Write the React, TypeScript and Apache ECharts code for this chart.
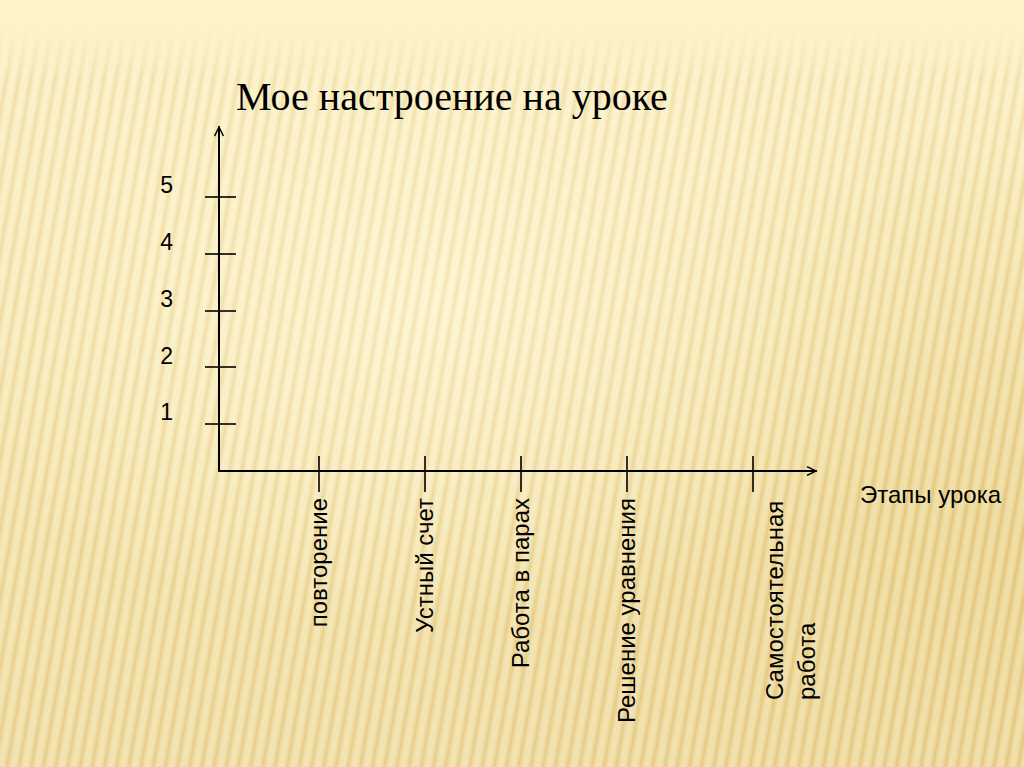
import React, { useEffect, useRef } from "react";
import * as echarts from "echarts";

const chartTitle = "Мое настроение на уроке";
const stageNames = ["повторение", "Устный счет", "Работа в парах", "Решение уравнения", "Самостоятельная\nработа"];
const stagePositions = [0.97, 2.0, 2.93, 3.96, 5.19];
const moodLevels = [1, 2, 3, 4, 5];
const xAxisName = "Этапы урока";

const ARROW = "path://M5,0 L10,10 L8.8,11 L5,3 L1.2,11 L0,10 Z";

function stageLabel(v: number): string {
  let best = 0;
  let d = Infinity;
  stagePositions.forEach((p, i) => {
    if (Math.abs(p - v) < d) {
      d = Math.abs(p - v);
      best = i;
    }
  });
  return stageNames[best];
}

export default function App() {
  const ref = useRef<HTMLDivElement>(null);
  useEffect(() => {
    if (!ref.current) return;
    const chart = echarts.init(ref.current, undefined, { renderer: "svg" });
    const labelFont = { fontFamily: "Liberation Sans", fontSize: 24, color: "#000" };
    const axisLine = { color: "#000", width: 2 };
    const tickLine = { color: "#000", width: 1.6 };
    chart.setOption({
      animation: false,
      backgroundColor: "transparent",
      title: {
        text: chartTitle,
        left: 231,
        top: 71,
        textStyle: { fontFamily: "Liberation Serif", fontSize: 40, fontWeight: "normal", color: "#000" },
      },
      grid: { left: 219, right: 208, top: 127, bottom: 296, containLabel: false },
      xAxis: [
        {
          type: "value",
          min: 0,
          max: 5.8,
          position: "bottom",
          axisLine: { show: true, onZero: false, symbol: ["none", ARROW], symbolSize: [14, 11], symbolOffset: [0, -4], lineStyle: axisLine },
          axisTick: { show: true, customValues: stagePositions, length: 21, lineStyle: tickLine },
          axisLabel: {
            customValues: stagePositions.slice(0, 4),
            rotate: 90,
            margin: 27,
            formatter: (v: number) => stageLabel(v),
            ...labelFont,
          },
          splitLine: { show: false },
          name: xAxisName,
          nameLocation: "end",
          nameGap: 44,
          nameTextStyle: { fontFamily: "Liberation Sans", fontSize: 24, color: "#000", align: "left", verticalAlign: "top", padding: [11, 0, 0, 0] },
        },
        {
          type: "value",
          min: 0,
          max: 5.8,
          position: "bottom",
          axisLine: { show: false, onZero: false },
          axisTick: { show: true, inside: true, customValues: stagePositions, length: 15, lineStyle: tickLine },
          axisLabel: {
            customValues: [stagePositions[4]],
            rotate: 90,
            margin: 229,
            align: "left",
            verticalAlign: "top",
            lineHeight: 32,
            padding: [5, 0, 0, 0],
            formatter: (v: number) => stageLabel(v),
            ...labelFont,
          },
          splitLine: { show: false },
        },
      ],
      yAxis: [
        {
          type: "value",
          min: 0.17,
          max: 6.233,
          position: "left",
          axisLine: { show: true, onZero: false, symbol: ["none", ARROW], symbolSize: [14, 11], symbolOffset: [0, -4], lineStyle: axisLine },
          axisTick: { show: true, customValues: moodLevels, length: 14, lineStyle: tickLine },
          axisLabel: { customValues: moodLevels, margin: 46, verticalAlign: "bottom", fontFamily: "Liberation Sans", fontSize: 23, color: "#000" },
          splitLine: { show: false },
        },
        {
          type: "value",
          min: 0.17,
          max: 6.233,
          position: "left",
          axisLine: { show: false, onZero: false },
          axisTick: { show: true, inside: true, customValues: moodLevels, length: 17, lineStyle: tickLine },
          axisLabel: { show: false },
          splitLine: { show: false },
        },
      ],
      series: [{ type: "line", xAxisIndex: 0, yAxisIndex: 0, data: [], silent: true }],
    });
    return () => chart.dispose();
  }, []);

  const bg = [
    "linear-gradient(to bottom, #FCF3C9 0px, #FCF3C9 30px, rgba(252,243,201,0) 80px)",
    "repeating-linear-gradient(100deg, rgba(255,255,235,0.32) 0px, rgba(255,255,235,0.32) 4px, rgba(185,140,40,0.12) 8px, rgba(255,255,235,0.32) 12px)",
    "radial-gradient(ellipse 520px 330px at 430px 300px, rgba(253,244,205,0.85), rgba(253,244,205,0) 100%)",
    "radial-gradient(ellipse 650px 420px at 1024px 540px, rgba(222,188,100,0.45), rgba(222,188,100,0) 100%)",
    "linear-gradient(to bottom, #FAEEC0 0%, #F6E5AE 35%, #F0DB9D 75%, #EDD697 100%)",
  ].join(",");

  return (
    <div style={{ position: "absolute", left: 0, top: 0, width: 1024, height: 767, background: bg }}>
      <div ref={ref} style={{ width: 1024, height: 767 }} />
    </div>
  );
}
